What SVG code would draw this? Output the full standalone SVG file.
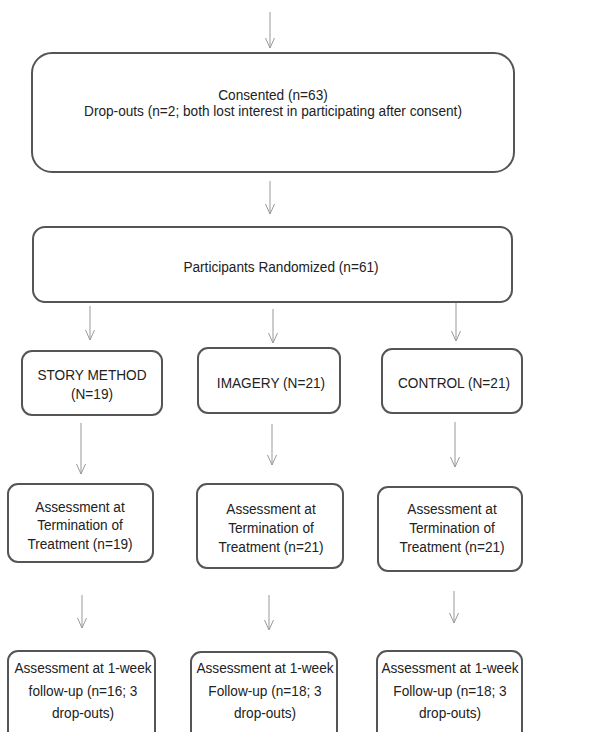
<svg xmlns="http://www.w3.org/2000/svg" width="613" height="732" viewBox="0 0 613 732">
<style>
.box{fill:#fff;stroke:#555;stroke-width:2}
.t{font-family:"Liberation Sans",Arial,sans-serif;font-size:15px;fill:#222;text-anchor:middle}
.c line{stroke:#999;stroke-width:1;marker-end:url(#ah)}
</style>
<defs>
<marker id="ah" viewBox="0 0 10 10" refX="10" refY="5" markerWidth="10" markerHeight="10" markerUnits="userSpaceOnUse" orient="auto">
<path d="M0,0.5 L10,5 L0,9.5" fill="none" stroke="#999" stroke-width="1"/>
</marker>
</defs>
<rect width="613" height="732" fill="#fff"/>
<g class="c" id="connectors">
<line x1="270" y1="12" x2="270" y2="48"/>
<line x1="270" y1="181" x2="270" y2="214"/>
<line x1="90" y1="306" x2="90" y2="340"/>
<line x1="273" y1="309" x2="273" y2="343"/>
<line x1="456" y1="302" x2="456" y2="341"/>
<line x1="81" y1="423" x2="81" y2="474"/>
<line x1="272" y1="424" x2="272" y2="465"/>
<line x1="455" y1="422" x2="455" y2="467"/>
<line x1="82" y1="595" x2="82" y2="628"/>
<line x1="269" y1="595" x2="269" y2="630"/>
<line x1="454" y1="591" x2="454" y2="623"/>
</g>
<g id="consented">
<rect class="box" x="32" y="53" width="482" height="119" rx="20"/>
<text class="t" transform="translate(273 99.5) scale(0.91 1)">Consented (n=63)</text>
<text class="t" transform="translate(273 116) scale(0.91 1)">Drop-outs (n=2; both lost interest in participating after consent)</text>
</g>
<g id="randomized">
<rect class="box" x="33" y="227" width="479" height="75" rx="12"/>
<text class="t" transform="translate(281 271.5) scale(0.91 1)">Participants Randomized (n=61)</text>
</g>
<g id="story">
<rect class="box" x="22" y="351" width="140" height="64" rx="10"/>
<text class="t" transform="translate(92 379.5) scale(0.91 1)">STORY METHOD</text>
<text class="t" transform="translate(92 398.5) scale(0.91 1)">(N=19)</text>
</g>
<g id="imagery">
<rect class="box" x="198" y="348" width="142" height="65" rx="10"/>
<text class="t" transform="translate(271 387.5) scale(0.91 1)">IMAGERY (N=21)</text>
</g>
<g id="control">
<rect class="box" x="382" y="349" width="140" height="64" rx="10"/>
<text class="t" transform="translate(454 387.5) scale(0.91 1)">CONTROL (N=21)</text>
</g>
<g id="term-story">
<rect class="box" x="8" y="484" width="145" height="78" rx="10"/>
<text class="t" transform="translate(80 511.5) scale(0.91 1)">Assessment at</text>
<text class="t" transform="translate(80 529.5) scale(0.91 1)">Termination of</text>
<text class="t" transform="translate(80 548.5) scale(0.91 1)">Treatment (n=19)</text>
</g>
<g id="term-imagery">
<rect class="box" x="197" y="484" width="146" height="84" rx="10"/>
<text class="t" transform="translate(271 513.5) scale(0.91 1)">Assessment at</text>
<text class="t" transform="translate(271 532.5) scale(0.91 1)">Termination of</text>
<text class="t" transform="translate(271 551.5) scale(0.91 1)">Treatment (n=21)</text>
</g>
<g id="term-control">
<rect class="box" x="378" y="487" width="144" height="84" rx="10"/>
<text class="t" transform="translate(452 513.5) scale(0.91 1)">Assessment at</text>
<text class="t" transform="translate(452 532.5) scale(0.91 1)">Termination of</text>
<text class="t" transform="translate(452 551.5) scale(0.91 1)">Treatment (n=21)</text>
</g>
<g id="fu-story">
<rect class="box" x="8" y="651" width="147" height="100" rx="10"/>
<text class="t" transform="translate(83 672.5) scale(0.91 1)">Assessment at 1-week</text>
<text class="t" transform="translate(83 695.5) scale(0.91 1)">follow-up (n=16; 3</text>
<text class="t" transform="translate(83 717.5) scale(0.91 1)">drop-outs)</text>
</g>
<g id="fu-imagery">
<rect class="box" x="191" y="652" width="146" height="100" rx="10"/>
<text class="t" transform="translate(265 672.5) scale(0.91 1)">Assessment at 1-week</text>
<text class="t" transform="translate(265 695.5) scale(0.91 1)">Follow-up (n=18; 3</text>
<text class="t" transform="translate(265 717.5) scale(0.91 1)">drop-outs)</text>
</g>
<g id="fu-control">
<rect class="box" x="377" y="651" width="145" height="100" rx="10"/>
<text class="t" transform="translate(450 672.5) scale(0.91 1)">Assessment at 1-week</text>
<text class="t" transform="translate(450 695.5) scale(0.91 1)">Follow-up (n=18; 3</text>
<text class="t" transform="translate(450 717.5) scale(0.91 1)">drop-outs)</text>
</g>
</svg>
